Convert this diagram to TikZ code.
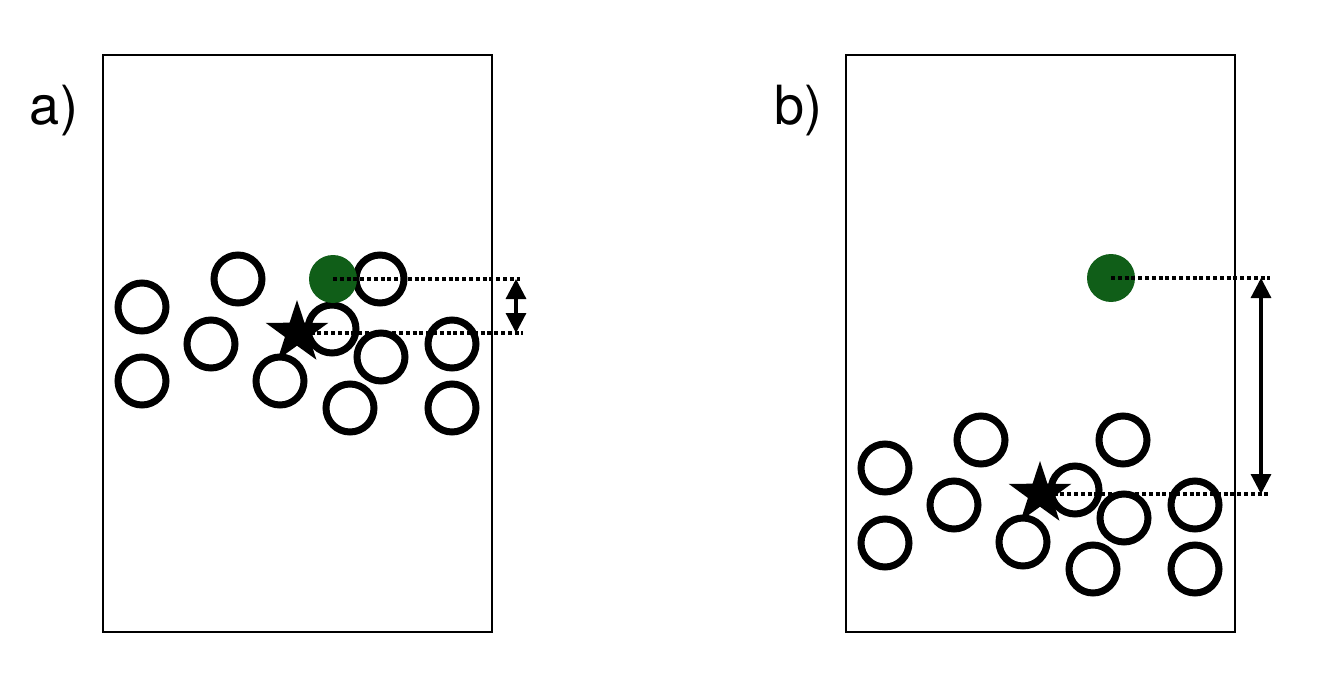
\documentclass[tikz,border=0pt]{standalone}
\usepackage{fontspec}
\setmainfont{TeX Gyre Heros}
\usetikzlibrary{arrows.meta,shapes.geometric}
\definecolor{probe}{RGB}{16,94,24}

\begin{document}
\begin{tikzpicture}[x=0.5pt, y=-0.5pt,
  ring/.style={circle, draw, line width=3.5pt, minimum size=24pt, inner sep=0pt},
  probedot/.style={circle, fill=probe, minimum size=24pt, inner sep=0pt},
  centre/.style={star, star points=5, star point ratio=2.6, fill=black,
                 minimum size=33pt, inner sep=0pt},
  guide/.style={line width=1.6pt, dash pattern=on 2pt off 1.4pt},
  span/.style={line width=1.6pt, {Triangle[length=10pt,width=10pt]}-{Triangle[length=10pt,width=10pt]}},
  panel/.style={line width=1.2pt},
  tag/.style={font=\fontsize{27}{32}\selectfont, inner sep=0pt}]
\useasboundingbox (0,0) rectangle (1324,674);

% panel a
\draw[panel] (103,55) rectangle (492,632);
\node[tag] (taga) at (54,111) {a)};
\foreach \x/\y [count=\i] in {142/307, 142/381, 238/279, 211/344, 280/381, 332/329,
                              380/279, 381/357, 350/408, 452/344, 452/408}
  \node[ring] (a\i) at (\x,\y) {};
\node[probedot] (ga) at (333,279) {};
\coordinate (aup) at (520,279);
\coordinate (adown) at (523,333);
\draw[guide] (ga.center) -- (aup);
\node[centre] (sa) at (297,333) {};
\draw[guide] (sa.center) -- (adown);
\coordinate (aarrtop) at (516,279);
\coordinate (aarrbot) at (516,333);
\draw[span] (aarrtop) -- (aarrbot);

% panel b
\draw[panel] (846,55) rectangle (1235,632);
\node[tag] (tagb) at (798,111) {b)};
\foreach \x/\y [count=\i] in {885/468, 885/543, 981/440, 954/505, 1023/542, 1075/490,
                              1123/440, 1124/518, 1093/569, 1195/505, 1195/569}
  \node[ring] (b\i) at (\x,\y) {};
\node[probedot] (gb) at (1111,278) {};
\coordinate (bup) at (1270,278);
\coordinate (bdown) at (1270,494);
\draw[guide] (gb.center) -- (bup);
\node[centre] (sb) at (1040,494) {};
\draw[guide] (sb.center) -- (bdown);
\coordinate (barrtop) at (1261,278);
\coordinate (barrbot) at (1261,494);
\draw[span] (barrtop) -- (barrbot);
\end{tikzpicture}
\end{document}
